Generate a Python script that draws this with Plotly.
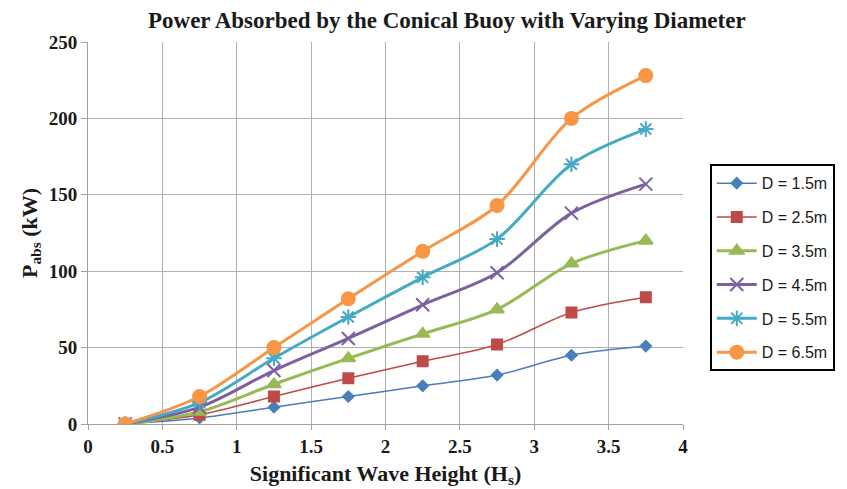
import plotly.graph_objects as go

hs = [0.25, 0.75, 1.25, 1.75, 2.25, 2.75, 3.25, 3.75]
d15 = [0, 4, 11, 18, 25, 32, 45, 51]
d25 = [0, 6, 18, 30, 41, 52, 73, 83]
d35 = [0, 8, 26, 43, 59, 75, 105, 120]
d45 = [0, 11, 35, 56, 78, 99, 138, 157]
d55 = [0, 14, 43, 70, 96, 121, 170, 193]
d65 = [0, 18, 50, 82, 113, 143, 200, 228]

names = ["D = 1.5m", "D = 2.5m", "D = 3.5m", "D = 4.5m", "D = 5.5m", "D = 6.5m"]
series = [d15, d25, d35, d45, d55, d65]
colors = ["#4a7ebb", "#be4b48", "#98b954", "#7d60a0", "#46aac5", "#f79646"]
symbols = ["diamond", "square", "triangle-up", "x-thin-open", "asterisk-open", "circle"]
widths = [1.5, 1.5, 3, 3, 3, 3]
msizes = [8, 10, 12, 13, 13, 13]

fig = go.Figure()
for i, (n, s) in enumerate(zip(names, series)):
    fig.add_trace(go.Scatter(
        x=hs, y=s, name=n, mode="lines+markers", legendgroup=n,
        line=dict(color=colors[i], width=widths[i], shape="spline", smoothing=0.9),
        marker=dict(symbol=symbols[i], size=msizes[i], color=colors[i],
                    line=dict(color=colors[i], width=2)),
    ))

serif = "Liberation Serif"
fig.update_layout(
    width=839, height=481,
    margin=dict(l=80, r=161, t=34, b=65),
    paper_bgcolor="white", plot_bgcolor="white",
    title=dict(text="<b>Power Absorbed by the Conical Buoy with Varying Diameter</b>",
               x=0.523, xanchor="center", y=0.975, yanchor="middle",
               font=dict(family=serif, size=23, color="#1a1a1a")),
    legend=dict(x=1.045, xanchor="left", y=0.68, yanchor="top",
                bordercolor="black", borderwidth=2, bgcolor="white",
                font=dict(family="Liberation Sans", size=16, color="#1a1a1a"),
                tracegroupgap=10, itemwidth=40),
    xaxis=dict(range=[0, 4], dtick=0.5, tick0=0, showgrid=True, gridcolor="#b0b0b0",
               gridwidth=1, showline=True, linecolor="#a0a0a0", ticks="outside",
               ticklen=5, tickcolor="#a0a0a0", zeroline=False, automargin=False,
               tickprefix="<b>", ticksuffix="</b>",
               tickfont=dict(family=serif, size=19, color="#1a1a1a"),
               title=dict(text="<b>Significant Wave Height (H<sub>s</sub>)</b>",
                          font=dict(family=serif, size=22, color="#1a1a1a"), standoff=9)),
    yaxis=dict(range=[0, 250], dtick=50, showgrid=True, gridcolor="#b0b0b0",
               gridwidth=1, showline=True, linecolor="#a0a0a0", ticks="outside",
               ticklen=6, tickcolor="#a0a0a0", zeroline=False, automargin=False,
               tickprefix="<b>", ticksuffix="</b>",
               tickfont=dict(family=serif, size=19, color="#1a1a1a"),
               title=dict(text="<b>P<sub>abs</sub> (kW)</b>",
                          font=dict(family=serif, size=22, color="#1a1a1a"), standoff=5)),
)
fig.write_html("out.html")
